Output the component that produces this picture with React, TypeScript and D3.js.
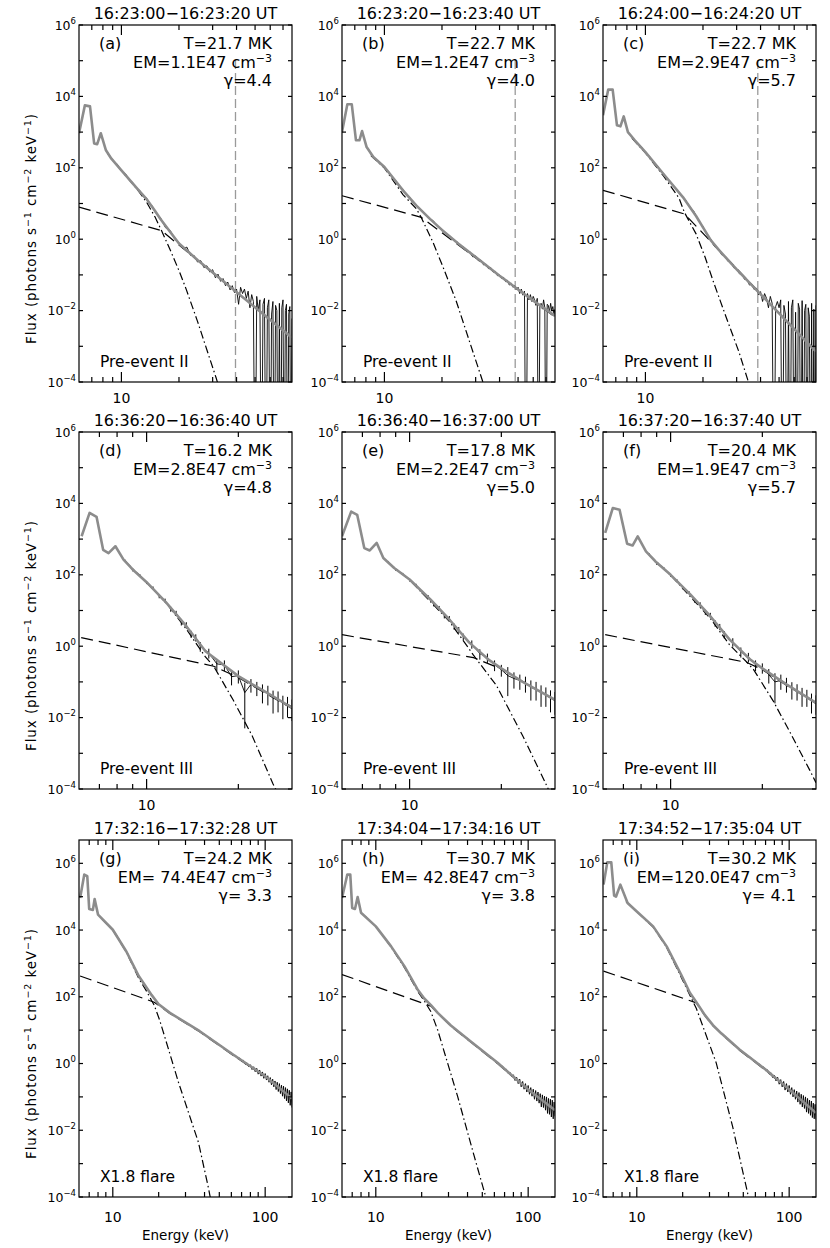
import React from 'react';
import * as d3 from 'd3';

// ---------------- channel energies (keV) ----------------
const row1Energy = [8.5, 9, 9.5, 10, 10.5, 11, 11.5, 12, 12.5, 13, 13.5, 14, 14.5, 15,
  16, 17, 18, 19, 20, 21, 22, 23, 24, 25, 26, 27, 28, 29, 30, 31, 32, 33, 34, 35, 36, 37, 38, 39, 40,
  41, 42, 43, 44, 45, 46, 47, 48, 49, 50, 51, 52, 53, 54, 55, 56, 57, 58, 59, 60,
  61, 62, 63, 64, 65, 66, 67, 68, 69, 70, 71, 72, 73, 74, 75, 76, 77, 78];
const row2Energy = [8.5, 9, 9.5, 10, 10.5, 11, 11.5, 12, 12.5, 13, 13.5, 14, 14.5, 15,
  16, 17, 18, 19, 20, 21, 22, 23, 24, 25, 26, 27, 28, 29, 30];
const row3Energy = [8.5, 9, 9.5, 10, 10.5, 11, 11.5, 12, 12.5, 13, 13.5, 14, 14.5, 15,
  16, 17, 18, 19, 20, 21, 22, 23, 24, 25, 26, 27, 28, 29, 30, 31, 32, 33, 34, 35, 36, 37, 38, 39, 40,
  42, 44, 46, 48, 50, 52, 54, 56, 58, 60, 62, 64, 66, 68, 70, 72, 74, 76, 78, 80,
  82, 84, 86, 88, 90, 92, 94, 96, 98, 100, 102, 104, 106, 108, 110, 112, 114, 116, 118, 120,
  122, 124, 126, 128, 130, 132, 134, 136, 138, 140, 142, 144, 146, 148, 150];

// ---------------- observed spectra (photons s^-1 cm^-2 keV^-1) ----------------
const aData = [265, 158, 128, 80, 68, 46, 38, 26, 23, 15.5, 14.5, 9.6, 8.6, 5.7,
  4.0, 2.1, 1.75, 1.0, 0.8, 0.54, 0.6, 0.35, 0.35, 0.23, 0.25, 0.16, 0.18, 0.12, 0.14, 0.083, 0.105, 0.066, 0.079, 0.05, 0.063, 0.038, 0.05, 0.032, 0.04,
  0.015, 0.045, 0.030, 0.040, 0.022, 0.035, 0.012, 0.028, 0.018, 0, 0.025, 0.010, 0.020, 0, 0.015, 0.022, 0, 0.012, 0.020, 0,
  0.008, 0.018, 0, 0.014, 0.010, 0, 0.016, 0, 0.012, 0.020, 0, 0.010, 0.015, 0, 0.008, 0.013, 0, 0.006];
const bData = [240, 170, 142, 100, 80, 52, 43, 29, 25, 17.5, 15.5, 11, 10, 7.4,
  5.9, 3.8, 3.3, 2.2, 1.9, 1.38, 1.25, 0.92, 0.85, 0.62, 0.6, 0.44, 0.45, 0.32, 0.34, 0.25, 0.26, 0.19, 0.2, 0.15, 0.16, 0.12, 0.125, 0.095, 0.1,
  0.08, 0.085, 0.065, 0.07, 0.052, 0.058, 0.045, 0.05, 0.038, 0.045, 0.03, 0.04, 0.027, 0.035, 0, 0.03, 0.02, 0.028, 0.018, 0.025,
  0.02, 0.014, 0.022, 0, 0.014, 0.016, 0.011, 0.02, 0.012, 0, 0.015, 0.014, 0.009, 0.016, 0.01, 0.013, 0.008, 0.011];
const cData = [720, 500, 395, 265, 210, 142, 118, 80, 68, 48, 42, 30, 26.5, 19,
  14, 8.4, 5.8, 3.2, 2.3, 1.3, 1.0, 0.62, 0.56, 0.37, 0.34, 0.24, 0.225, 0.158, 0.15, 0.108, 0.105, 0.075, 0.075, 0.052, 0.055, 0.039, 0.042, 0.028, 0.034,
  0.018, 0.03, 0.022, 0.012, 0.025, 0.016, 0, 0.013, 0.018, 0.012, 0.02, 0, 0.014, 0.008, 0, 0.018, 0, 0.012, 0.02, 0,
  0.009, 0, 0.016, 0.011, 0, 0.019, 0, 0.01, 0.015, 0, 0.012, 0.007, 0, 0.016, 0, 0.011, 0, 0.014];

const dData = [250, 135, 98, 60, 43, 25, 19, 11, 8.4, 4.8, 3.9, 2.2, 1.75, 1.0,
  0.65, 0.32, 0.3, 0.14, 0.15, 0.05, 0.085, 0.07, 0.055, 0.05, 0.035, 0.034, 0.025, 0.024, 0.02];
const dErr = [15, 10, 7, 5, 4, 3, 2.5, 1.8, 1.4, 1.0, 0.8, 0.5, 0.4, 0.3,
  0.2, 0.12, 0.1, 0.06, 0.06, 0.045, 0.035, 0.03, 0.03, 0.028, 0.022, 0.02, 0.016, 0.014, 0.012];
const eData = [230, 140, 106, 70, 52, 32, 24.5, 15, 11.8, 7.2, 6.0, 3.6, 2.9, 1.85,
  1.15, 0.62, 0.48, 0.30, 0.22, 0.15, 0.125, 0.11, 0.095, 0.07, 0.065, 0.05, 0.045, 0.036, 0.032];
const eErr = [14, 10, 7, 5, 4, 3, 2.5, 2, 1.6, 1.2, 1.0, 0.7, 0.55, 0.4,
  0.3, 0.2, 0.14, 0.1, 0.08, 0.11, 0.06, 0.05, 0.045, 0.04, 0.035, 0.03, 0.025, 0.022, 0.02];
const fData = [385, 205, 155, 95, 69, 42, 31.5, 19, 15, 9.0, 7.4, 4.4, 3.5, 2.15,
  1.32, 0.7, 0.5, 0.3, 0.25, 0.16, 0.1, 0.11, 0.09, 0.065, 0.058, 0.044, 0.04, 0.03, 0.027];
const fErr = [20, 14, 10, 7, 5, 4, 3, 2.5, 2, 1.5, 1.2, 0.9, 0.7, 0.5,
  0.35, 0.22, 0.15, 0.1, 0.08, 0.07, 0.075, 0.05, 0.04, 0.033, 0.028, 0.024, 0.02, 0.017, 0.015];

const gData = [2.3e4, 1.6e4, 1.32e4, 1.0e4, 7600, 5300, 3800, 2750, 2000, 1300, 980, 670, 510, 375,
  250, 158, 115, 79, 62, 50, 44, 35.5, 33, 27.5, 26.5, 22.3, 21.5, 18.2, 17.8, 15.1, 14.8, 12.7, 12.4, 10.6, 10.6, 9.1, 9.0, 7.7, 7.7,
  6.0, 5.7, 4.5, 4.3, 3.45, 3.35, 2.7, 2.6, 2.15, 2.15, 1.72, 1.75, 1.4, 1.46, 1.15, 1.24, 0.95, 1.05, 0.8, 0.92,
  0.66, 0.8, 0.57, 0.72, 0.48, 0.64, 0.42, 0.56, 0.36, 0.5, 0.32, 0.43, 0.275, 0.38, 0.23, 0.34, 0.20, 0.30, 0.166, 0.275,
  0.145, 0.25, 0.126, 0.224, 0.105, 0.21, 0.089, 0.19, 0.076, 0.174, 0.066, 0.158, 0.056, 0.141, 0.048];
const hData = [2.7e4, 1.95e4, 1.62e4, 1.25e4, 9800, 7000, 5750, 4150, 3500, 2550, 2100, 1530, 1300, 970,
  630, 360, 240, 148, 105, 82, 71, 54.5, 46.5, 35, 31, 25, 22.5, 18.3, 16.6, 13.6, 12.8, 10.7, 10.3, 8.6, 8.3, 7.05, 6.8, 5.8, 5.7,
  4.4, 4.0, 3.15, 2.95, 2.32, 2.2, 1.75, 1.68, 1.35, 1.32, 1.05, 1.04, 0.82, 0.83, 0.64, 0.67, 0.50, 0.55, 0.40, 0.46,
  0.31, 0.39, 0.25, 0.34, 0.20, 0.29, 0.17, 0.25, 0.14, 0.22, 0.12, 0.19, 0.105, 0.17, 0.085, 0.155, 0.075, 0.14, 0.065, 0.125,
  0.05, 0.115, 0.048, 0.105, 0.04, 0.1, 0.032, 0.09, 0.03, 0.085, 0.025, 0.08, 0.022, 0.07, 0.026];
const iData = [7.5e4, 5.4e4, 4.6e4, 3.5e4, 3.0e4, 2.38e4, 2.1e4, 1.64e4, 1.46e4, 1.12e4, 9100, 6800, 5650, 4250,
  2850, 1550, 980, 570, 380, 225, 156, 103, 84, 60, 48.5, 35.4, 29, 22.3, 19.6, 15.2, 13.8, 11.3, 10.5, 8.7, 8.15, 6.9, 6.55, 5.5, 5.3,
  4.05, 3.6, 2.78, 2.6, 2.05, 1.95, 1.56, 1.52, 1.22, 1.19, 0.96, 0.96, 0.76, 0.79, 0.61, 0.65, 0.48, 0.53, 0.38, 0.45,
  0.3, 0.39, 0.24, 0.33, 0.2, 0.29, 0.16, 0.25, 0.14, 0.22, 0.12, 0.19, 0.1, 0.165, 0.085, 0.15, 0.07, 0.135, 0.06, 0.12,
  0.05, 0.11, 0.045, 0.1, 0.035, 0.09, 0.032, 0.08, 0.028, 0.075, 0.024, 0.065, 0.022, 0.06, 0.021];

// ---------------- fitted model: total (gray), thermal (dash-dot), non-thermal (dashed) ----------------
const aFitE = [6.0, 6.44, 6.85, 7.2, 7.47, 7.8, 8.3, 8.86, 10, 12, 13.5, 15, 16, 18, 20, 22, 25, 78];
const aFitF = [930, 5600, 5250, 480, 460, 930, 310, 180, 85, 27.5, 13.5, 6.2, 3.7, 1.6, 0.76, 0.48, 0.26, 0.00174];
const aThE = [8.5, 10, 12, 13.5, 15, 16.2, 18, 20, 21.8, 25, 28, 31.3, 33];
const aThF = [240, 83, 26.3, 11.2, 4.17, 1.74, 0.5, 0.132, 0.04, 0.005, 7.9e-4, 1.29e-4, 5e-5];
const aNtE = [6, 16.2, 78];
const aNtF = [7.9, 1.74, 0.00174];

const bFitE = [6.0, 6.4, 6.75, 7.1, 7.4, 7.64, 8.07, 8.75, 10, 12.5, 14.7, 17.3, 20, 24.3, 30, 40, 48, 60, 78];
const bFitF = [1000, 6000, 6000, 590, 590, 1070, 380, 200, 105, 23.4, 8.7, 3.7, 1.82, 0.76, 0.316, 0.095, 0.046, 0.019, 0.0071];
const bThE = [8.5, 10, 12.5, 14.7, 15.6, 18, 20.5, 23.7, 28, 32.6, 33.5];
const bThF = [220, 98, 17.8, 7.1, 4.0, 0.79, 0.141, 0.019, 0.00126, 1.07e-4, 6.3e-5];
const bNtE = [6, 15.6, 78];
const bNtF = [16.5, 4.1, 0.0066];

const cFitE = [6.0, 6.39, 6.74, 7.1, 7.4, 7.7, 8.1, 8.8, 10, 12.4, 15.7, 18.4, 20, 22, 24.2, 30, 78];
const cFitF = [2950, 15500, 15500, 1550, 1450, 2750, 1000, 590, 275, 68, 15.1, 4.47, 2.14, 0.93, 0.50, 0.142, 7.1e-4];
const cThE = [8.5, 10, 12.4, 15, 16, 18.4, 20.5, 22.7, 26.5, 30.8, 34.2, 35];
const cThF = [676, 263, 60, 14.1, 5.6, 1.41, 0.316, 0.063, 0.0063, 7.1e-4, 1.2e-4, 7.9e-5];
const cNtE = [6, 16, 78];
const cNtF = [23.5, 5.1, 7.0e-4];

const dFitE = [6.12, 6.5, 6.85, 7.2, 7.5, 7.9, 8.4, 9.0, 10, 11.6, 13.5, 15.6, 20, 24.8, 30];
const dFitF = [1200, 5400, 4200, 500, 405, 630, 265, 141, 62, 16.6, 3.63, 0.724, 0.145, 0.050, 0.019];
const dThE = [8.5, 10, 11.6, 13.5, 15.6, 16.6, 19.2, 22.2, 26, 26.5, 27];
const dThF = [240, 61, 16.2, 3.02, 0.50, 0.275, 0.032, 0.0031, 1.38e-4, 1e-4, 7e-5];
const dNtE = [6.1, 16.6, 20, 30];
const dNtF = [1.74, 0.275, 0.132, 0.018];

const eFitE = [6.0, 6.43, 6.73, 7.1, 7.4, 7.8, 8.2, 8.9, 10, 11.7, 13.5, 15.7, 18.3, 20, 23.5, 30];
const eFitF = [1200, 5900, 4800, 560, 480, 780, 295, 155, 74, 20.4, 5.6, 1.26, 0.40, 0.24, 0.10, 0.0316];
const eThE = [8.5, 10, 13.5, 15.7, 16.2, 19.3, 23.5, 28.2, 28.5, 29];
const eThF = [220, 72, 5.0, 0.83, 0.56, 0.078, 0.0031, 1.23e-4, 1e-4, 7e-5];
const eNtE = [6, 16.2, 20, 30];
const eNtF = [2.1, 0.48, 0.23, 0.030];

const fFitE = [6.1, 6.46, 6.8, 7.2, 7.5, 7.8, 8.3, 8.9, 10, 11.6, 13.5, 15.6, 18.2, 20, 24, 30];
const fFitF = [1500, 7400, 6600, 740, 660, 1200, 455, 240, 100, 28.2, 6.9, 1.55, 0.43, 0.24, 0.085, 0.026];
const fThE = [8.5, 10, 13.5, 15.6, 17.8, 18.7, 21.7, 25, 28.5, 30];
const fThF = [363, 98, 6.0, 1.10, 0.355, 0.224, 0.0295, 0.0031, 3.6e-4, 1.5e-4];
const fNtE = [6.1, 17.8, 20, 24, 30];
const fNtF = [2.1, 0.35, 0.22, 0.081, 0.025];

const gFitE = [6.1, 6.5, 6.8, 7.0, 7.4, 7.6, 8.0, 10, 12.3, 14.8, 18, 20, 23.7, 37.2, 61.5, 100, 150];
const gFitF = [9.1e4, 4.6e5, 4.1e5, 4.3e4, 4.0e4, 8.5e4, 2.9e4, 1.02e4, 2240, 417, 112, 60, 33, 9.3, 1.86, 0.417, 0.089];
const gThE = [8.5, 10, 12.3, 14.8, 16.5, 18.7, 20.3, 22.1, 27, 36.5, 42.4, 44];
const gThF = [2.14e4, 1.0e4, 2140, 355, 158, 56, 20, 5.6, 0.27, 0.0043, 1.9e-4, 7.9e-5];
const gNtE = [6.1, 18.7, 23.7, 37.2, 61.5, 100, 150];
const gNtF = [420, 69, 31.6, 8.9, 1.78, 0.40, 0.085];

const hFitE = [6.0, 6.5, 6.8, 7.0, 7.3, 7.6, 8.0, 10, 12.6, 15.4, 18.8, 20.8, 23, 25.5, 31.1, 42, 63, 100, 150];
const hFitF = [9.1e4, 4.6e5, 4.6e5, 4.6e4, 4.3e4, 9.8e4, 3.3e4, 1.29e4, 3240, 830, 166, 89, 56, 33, 13.8, 4.6, 1.05, 0.166, 0.040];
const hThE = [8.5, 10, 12.6, 15.4, 18.8, 21, 23, 25.5, 34.4, 44.2, 52.7, 54];
const hThF = [2.57e4, 1.29e4, 3090, 760, 148, 71, 35.5, 10, 0.105, 0.0017, 1e-4, 6.3e-5];
const hNtE = [6, 23, 25.5, 31.1, 42, 63, 100, 150];
const hNtF = [465, 52.5, 32, 13.2, 4.4, 1.0, 0.16, 0.038];

const iFitE = [6.05, 6.4, 6.8, 7.1, 7.3, 7.8, 8.7, 10, 12.8, 15.7, 19.6, 22.3, 24.6, 28, 31.6, 36, 47.2, 70, 100, 150];
const iFitF = [2.3e5, 1.07e6, 1.07e6, 1.07e5, 1.0e5, 2.3e5, 6.5e4, 3.6e4, 1.29e4, 3240, 447, 132, 69, 28.2, 14.1, 7.9, 2.63, 0.66, 0.166, 0.033];
const iThE = [8.5, 10, 12.8, 15.7, 19.6, 22.3, 24.6, 33.2, 42.6, 53.3, 54.5];
const iThF = [7.2e4, 3.55e4, 1.23e4, 3020, 380, 112, 44.7, 1.05, 0.0126, 1.35e-4, 7.9e-5];
const iNtE = [6.05, 24.6, 28, 31.6, 36, 47.2, 70, 100, 150];
const iNtF = [590, 66, 27, 13.5, 7.6, 2.5, 0.63, 0.158, 0.031];

// vertical reference energies (row 1)
const vlineEnergy = [39.5, 48.3, 38.7];

// ---------------- labels ----------------
const panelKeys = ['a', 'b', 'c', 'd', 'e', 'f', 'g', 'h', 'i'];
const timeTitles = ['16:23:00−16:23:20 UT', '16:23:20−16:23:40 UT', '16:24:00−16:24:20 UT',
  '16:36:20−16:36:40 UT', '16:36:40−16:37:00 UT', '16:37:20−16:37:40 UT',
  '17:32:16−17:32:28 UT', '17:34:04−17:34:16 UT', '17:34:52−17:35:04 UT'];
const tempLabels = ['T=21.7 MK', 'T=22.7 MK', 'T=22.7 MK', 'T=16.2 MK', 'T=17.8 MK', 'T=20.4 MK', 'T=24.2 MK', 'T=30.7 MK', 'T=30.2 MK'];
const emLabels = ['EM=1.1E47 cm', 'EM=1.2E47 cm', 'EM=2.9E47 cm', 'EM=2.8E47 cm', 'EM=2.2E47 cm', 'EM=1.9E47 cm', 'EM= 74.4E47 cm', 'EM= 42.8E47 cm', 'EM=120.0E47 cm'];
const gammaLabels = ['γ=4.4', 'γ=4.0', 'γ=5.7', 'γ=4.8', 'γ=5.0', 'γ=5.7', 'γ= 3.3', 'γ= 3.8', 'γ= 4.1'];
const regionLabels = ['Pre-event II', 'Pre-event III', 'X1.8 flare'];

const row1XMajor = [10];
const row1XMinor = [7, 8, 9, 20, 30, 40, 50, 60, 70];
const row2XMajor = [10];
const row2XMinor = [7, 8, 9, 20];
const row3XMajor = [10, 100];
const row3XMinor = [7, 8, 9, 20, 30, 40, 50, 60, 70, 80, 90];

// ---------------- layout ----------------
const FONT = "'DejaVu Sans', 'Liberation Sans', sans-serif";
const W = 213;
const H = 357;
const colX = [79, 342, 603];
const rowCfg = [
  { top: 25, xDom: [6, 78], yDom: [1e-4, 1e6], xMajor: row1XMajor, xMinor: row1XMinor, labDy: 21 },
  { top: 432, xDom: [6, 30], yDom: [1e-4, 1e6], xMajor: row2XMajor, xMinor: row2XMinor, labDy: 21 },
  { top: 840, xDom: [6, 150], yDom: [1e-4, 5e6], xMajor: row3XMajor, xMinor: row3XMinor, labDy: 25 },
];

type PanelDef = {
  idx: number; row: number; col: number;
  dataE: number[]; data: number[]; err?: number[];
  fitE: number[]; fitF: number[]; thE: number[]; thF: number[]; ntE: number[]; ntF: number[];
  vline?: number;
};

const panels: PanelDef[] = [
  { idx: 0, row: 0, col: 0, dataE: row1Energy, data: aData, fitE: aFitE, fitF: aFitF, thE: aThE, thF: aThF, ntE: aNtE, ntF: aNtF, vline: vlineEnergy[0] },
  { idx: 1, row: 0, col: 1, dataE: row1Energy, data: bData, fitE: bFitE, fitF: bFitF, thE: bThE, thF: bThF, ntE: bNtE, ntF: bNtF, vline: vlineEnergy[1] },
  { idx: 2, row: 0, col: 2, dataE: row1Energy, data: cData, fitE: cFitE, fitF: cFitF, thE: cThE, thF: cThF, ntE: cNtE, ntF: cNtF, vline: vlineEnergy[2] },
  { idx: 3, row: 1, col: 0, dataE: row2Energy, data: dData, err: dErr, fitE: dFitE, fitF: dFitF, thE: dThE, thF: dThF, ntE: dNtE, ntF: dNtF },
  { idx: 4, row: 1, col: 1, dataE: row2Energy, data: eData, err: eErr, fitE: eFitE, fitF: eFitF, thE: eThE, thF: eThF, ntE: eNtE, ntF: eNtF },
  { idx: 5, row: 1, col: 2, dataE: row2Energy, data: fData, err: fErr, fitE: fFitE, fitF: fFitF, thE: fThE, thF: fThF, ntE: fNtE, ntF: fNtF },
  { idx: 6, row: 2, col: 0, dataE: row3Energy, data: gData, fitE: gFitE, fitF: gFitF, thE: gThE, thF: gThF, ntE: gNtE, ntF: gNtF },
  { idx: 7, row: 2, col: 1, dataE: row3Energy, data: hData, fitE: hFitE, fitF: hFitF, thE: hThE, thF: hThF, ntE: hNtE, ntF: hNtF },
  { idx: 8, row: 2, col: 2, dataE: row3Energy, data: iData, fitE: iFitE, fitF: iFitF, thE: iThE, thF: iThF, ntE: iNtE, ntF: iNtF },
];

function supText(e: number) {
  return e < 0 ? '−' + Math.abs(e) : String(e);
}

function Panel({ p }: { p: PanelDef }) {
  const r = rowCfg[p.row];
  const left = colX[p.col];
  const top = r.top;
  const bottom = top + H;
  const right = left + W;
  const x = d3.scaleLog().domain(r.xDom).range([left, right]);
  const y = d3.scaleLog().domain(r.yDom).range([bottom, top]);
  const yv = (v: number) => y(v > 0 ? v : 1e-8);
  const mk = (E: number[], F: number[]) =>
    d3.line<number>().x((i) => x(E[i])).y((i) => yv(F[i]))(d3.range(E.length)) || '';
  const clipId = `clip-${panelKeys[p.idx]}`;
  const maxExp = Math.floor(Math.log10(r.yDom[1]) + 1e-9);
  const decades = d3.range(-4, maxExp + 1);
  const labelExps = decades.filter((e) => e % 2 === 0);
  const ax = 1.2;

  return (
    <g>
      <defs>
        <clipPath id={clipId}>
          <rect x={left} y={top} width={W} height={H} />
        </clipPath>
      </defs>
      <g clipPath={`url(#${clipId})`}>
        {p.vline !== undefined && (
          <line x1={x(p.vline)} x2={x(p.vline)} y1={top + 35} y2={bottom} stroke="#9a9a9a" strokeWidth={1.3} strokeDasharray="9 4" />
        )}
        <path d={mk(p.dataE, p.data)} fill="none" stroke="#000" strokeWidth={0.9} />
        {p.err && p.dataE.map((e, i) => (
          <line key={i} x1={x(e)} x2={x(e)} y1={yv(p.data[i] - p.err![i])} y2={yv(p.data[i] + p.err![i])} stroke="#000" strokeWidth={1} />
        ))}
        <path d={mk(p.ntE, p.ntF)} fill="none" stroke="#000" strokeWidth={1.2} strokeDasharray="12 6" />
        <path d={mk(p.thE, p.thF)} fill="none" stroke="#000" strokeWidth={1.2} strokeDasharray="8 3 1.5 3" />
        <path d={mk(p.fitE, p.fitF)} fill="none" stroke="#8c8c8c" strokeWidth={2.6} strokeLinejoin="round" />
      </g>
      <rect x={left} y={top} width={W} height={H} fill="none" stroke="#000" strokeWidth={ax} />
      {/* x ticks bottom/top */}
      {r.xMajor.map((v) => (
        <g key={`M${v}`}>
          <line x1={x(v)} x2={x(v)} y1={bottom} y2={bottom - 10} stroke="#000" strokeWidth={ax} />
          <line x1={x(v)} x2={x(v)} y1={top} y2={top + 10} stroke="#000" strokeWidth={ax} />
          <text x={x(v)} y={bottom + r.labDy} textAnchor="middle" fontSize={14}>{v}</text>
        </g>
      ))}
      {r.xMinor.map((v) => (
        <g key={`m${v}`}>
          <line x1={x(v)} x2={x(v)} y1={bottom} y2={bottom - 5} stroke="#000" strokeWidth={ax} />
          <line x1={x(v)} x2={x(v)} y1={top} y2={top + 5} stroke="#000" strokeWidth={ax} />
        </g>
      ))}
      {/* y ticks left/right */}
      {decades.map((e) => (
        <g key={`y${e}`}>
          <line x1={left} x2={left + 4} y1={y(Math.pow(10, e))} y2={y(Math.pow(10, e))} stroke="#000" strokeWidth={ax} />
          <line x1={right} x2={right - 4} y1={y(Math.pow(10, e))} y2={y(Math.pow(10, e))} stroke="#000" strokeWidth={ax} />
        </g>
      ))}
      {labelExps.map((e) => (
        <text key={`yl${e}`} x={left - 3} y={y(Math.pow(10, e)) + 4.5} textAnchor="end" fontSize={12.5}>
          10<tspan dy={-6} fontSize={8.5}>{supText(e)}</tspan>
        </text>
      ))}
      {/* titles and annotations */}
      <text x={(left + right) / 2} y={top - 6} textAnchor="middle" fontSize={16}>{timeTitles[p.idx]}</text>
      <text x={left + 20} y={top + 24} fontSize={16}>({panelKeys[p.idx]})</text>
      <text x={right - 20} y={top + 24} textAnchor="end" fontSize={16}>{tempLabels[p.idx]}</text>
      <text x={right - 20} y={top + 43} textAnchor="end" fontSize={16}>
        {emLabels[p.idx]}<tspan dy={-6} fontSize={11}>−3</tspan>
      </text>
      <text x={right - 20} y={top + 61} textAnchor="end" fontSize={16}>{gammaLabels[p.idx]}</text>
      <text x={left + 21} y={bottom - 15} fontSize={15.5}>{regionLabels[p.row]}</text>
      {p.row === 2 && (
        <text x={(left + right) / 2} y={bottom + 43} textAnchor="middle" fontSize={13.5}>Energy (keV)</text>
      )}
      {p.col === 0 && (
        <text transform={`translate(36,${(top + bottom) / 2 + 25}) rotate(-90)`} textAnchor="middle" fontSize={13.5} letterSpacing={0.9}>
          Flux (photons s<tspan dy={-5} fontSize={9.5}>−1</tspan>
          <tspan dy={5}> cm</tspan><tspan dy={-5} fontSize={9.5}>−2</tspan>
          <tspan dy={5}> keV</tspan><tspan dy={-5} fontSize={9.5}>−1</tspan>
          <tspan dy={5}>)</tspan>
        </text>
      )}
    </g>
  );
}

export default function App() {
  return (
    <svg width={830} height={1248} viewBox="0 0 830 1248" fontFamily={FONT}
      style={{ position: 'absolute', left: 0, top: 0, display: 'block', background: '#fff' }}>
      <rect x={0} y={0} width={830} height={1248} fill="#fff" />
      {panels.map((p) => <Panel key={p.idx} p={p} />)}
    </svg>
  );
}
